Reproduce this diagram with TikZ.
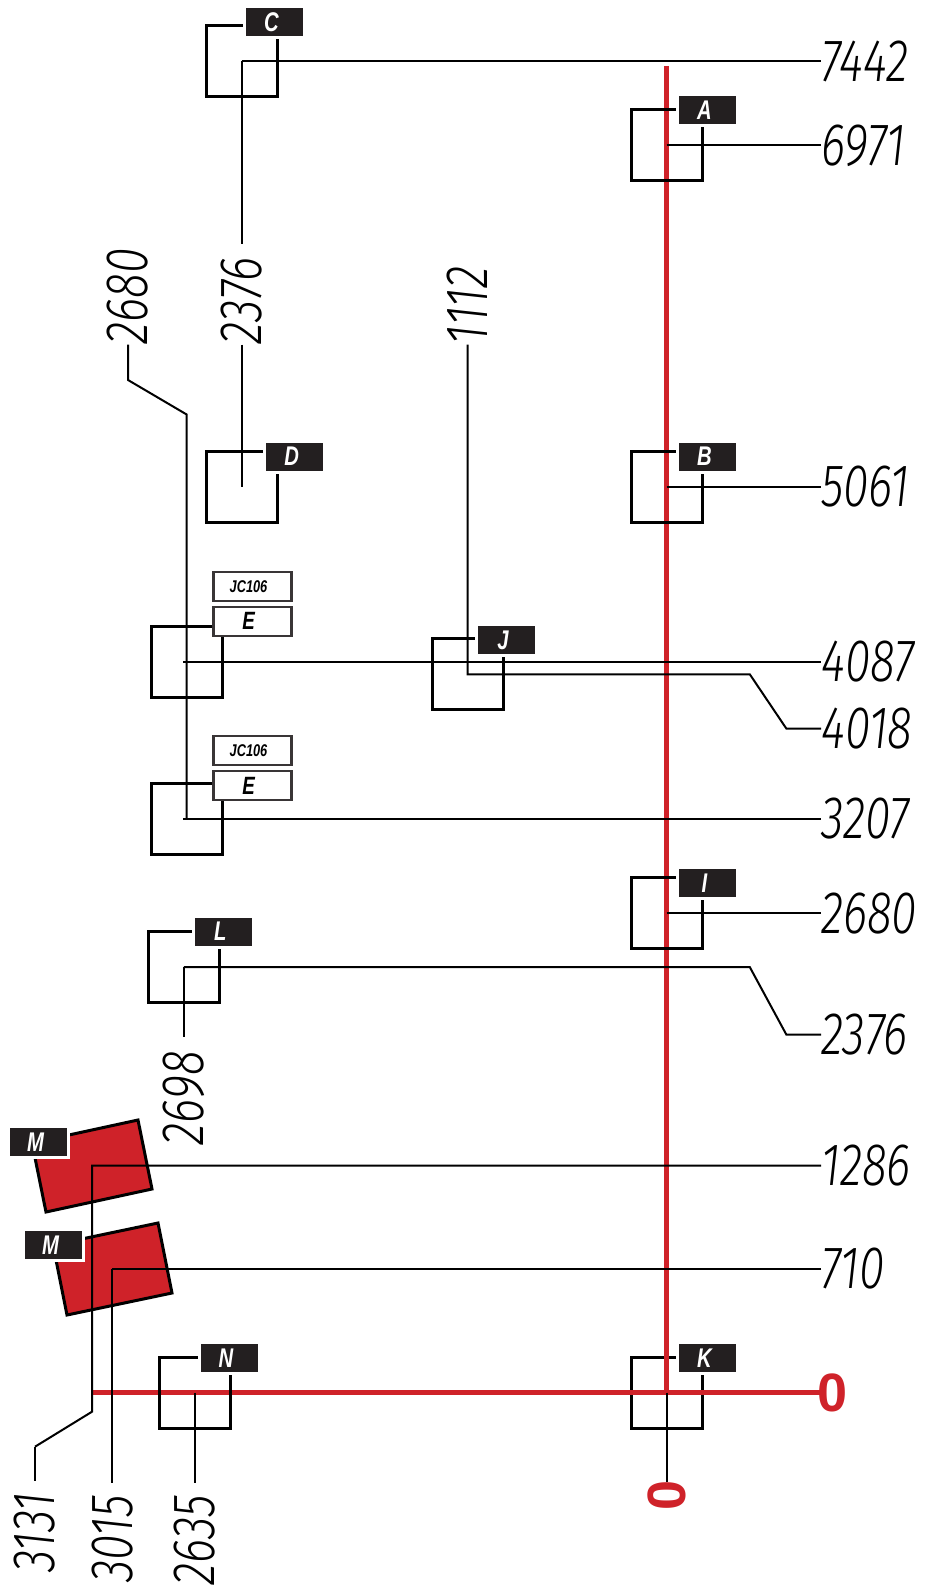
\documentclass[tikz,border=0pt]{standalone}
\usepackage{fontspec}
\setmainfont{Liberation Sans}
\newfontfamily\dimfont[FakeStretch=0.77,ItalicFont={Fira Sans Light Italic}]{Fira Sans Light}
\newfontfamily\tagfont[FakeStretch=0.75]{Liberation Sans}
\definecolor{sigred}{HTML}{CF2229}
\definecolor{tagblack}{HTML}{231F20}
\tikzset{
  frame/.style={draw=black,line width=3pt,minimum size=71pt,inner sep=0pt},
  leader/.style={draw=black,line width=2pt},
  redline/.style={draw=sigred,line width=5.5pt},
  tag/.style={fill=tagblack,draw=white,line width=3pt,text=white,minimum width=60pt,minimum height=31pt,inner sep=0pt,font=\tagfont\bfseries\itshape\fontsize{27}{27}\selectfont,execute at end node=\kern6pt},
  plate/.style={fill=white,draw=tagblack!90,line width=2.2pt,text=black,minimum width=78pt,minimum height=29pt,inner sep=0pt,font=\tagfont\bfseries\itshape\fontsize{25}{25}\selectfont,execute at end node=\kern8pt},
  smallplate/.style={plate,font=\tagfont\bfseries\itshape\fontsize{17}{17}\selectfont},
  dimlabel/.style={inner sep=0pt,font=\dimfont\itshape\fontsize{60}{60}\selectfont},
  zeromark/.style={inner sep=0pt,text=sigred,font=\bfseries\fontsize{54}{54}\selectfont},
  gapped/.style={shorten >=#1}
}
\begin{document}
\begin{tikzpicture}[x=1pt,y=-1pt]
\useasboundingbox (0,0) rectangle (924,1589);

\node[dimlabel,anchor=west] (lab7442) at (821,61) {7442};
\node[dimlabel,anchor=west] (lab6971) at (821,145.5) {6971};
\node[dimlabel,anchor=west] (lab5061) at (821,486.9) {5061};
\node[dimlabel,anchor=west] (lab4087) at (821,661.5) {4087};
\node[dimlabel,anchor=west] (lab4018) at (821,728.5) {4018};
\node[dimlabel,anchor=west] (lab3207) at (821,819) {3207};
\node[dimlabel,anchor=west] (lab2680r) at (821,913.4) {2680};
\node[dimlabel,anchor=west] (lab2376r) at (821,1034.5) {2376};
\node[dimlabel,anchor=west] (lab1286) at (821,1165.7) {1286};
\node[dimlabel,anchor=west] (lab710) at (821,1269) {710};
\node[dimlabel,rotate=90,anchor=west] (lab2680t) at (128,344.5) {2680};
\node[dimlabel,rotate=90,anchor=west] (lab2376t) at (241.6,344.5) {2376};
\node[dimlabel,rotate=90,anchor=west] (lab1112) at (467.6,344.5) {1112};
\node[dimlabel,rotate=90,anchor=east] (lab2698) at (183.9,1051) {2698};
\node[dimlabel,rotate=90,anchor=east] (lab3131) at (35,1492) {3131};
\node[dimlabel,rotate=90,anchor=east] (lab3015) at (112.3,1495) {3015};
\node[dimlabel,rotate=90,anchor=east] (lab2635) at (195,1495) {2635};

\node[zeromark] (zeroH) at (833,1392.5) {0};
\node[zeromark,rotate=90] (zeroV) at (666.5,1495) {0};

\coordinate (redtop) at (666.5,66);
\coordinate (redleft) at (92,1392.5);
\node[frame] (frameK) at (666.5,1392.5) {};
\draw[redline] (redtop) -- (frameK.center);
\draw[redline,gapped=-3pt] (redleft) -- (zeroH.west);

\draw[fill=sigred,draw=black,line width=3pt] (138,1120) -- (152,1189) -- (46,1212) -- (32,1143) -- cycle;
\draw[fill=sigred,draw=black,line width=3pt] (158,1223) -- (172,1293) -- (67,1315) -- (53,1245) -- cycle;

\node[frame] (frameC) at (241.6,61) {};
\node[frame] (frameA) at (666.5,145.5) {};
\node[frame] (frameB) at (666.5,486.9) {};
\node[frame] (frameD) at (241.6,486.9) {};
\node[frame] (frameEa) at (186.5,661.5) {};
\node[frame] (frameEb) at (186.5,819) {};
\node[frame] (frameJ) at (467.6,674.3) {};
\node[frame] (frameI) at (666.5,913.4) {};
\node[frame] (frameL) at (183.9,967.1) {};
\node[frame] (frameN) at (195,1392.5) {};

\coordinate (stubEa) at (183,661.5);
\coordinate (stubEb) at (183,819);
\coordinate (bendJa) at (749.8,674.3);
\coordinate (bendJb) at (786.3,728.5);
\coordinate (bendLa) at (749.8,967.1);
\coordinate (bendLb) at (786.3,1034.5);
\coordinate (bendTa) at (128,380);
\coordinate (bendTb) at (186.5,414.4);
\coordinate (cornerMa) at (92,1165.7);
\coordinate (cornerMb) at (112.3,1269);
\coordinate (bendMa) at (92,1411.7);
\coordinate (bendMb) at (35,1446.7);

\draw[leader] (frameC.center) -- (lab7442.west);
\draw[leader,gapped=13pt] (frameC.center) -- (lab2376t.east);
\draw[leader] (frameA.center) -- (lab6971.west);
\draw[leader] (frameB.center) -- (lab5061.west);
\draw[leader] (lab2376t.west) -- (frameD.center);
\draw[leader] (lab2680t.west) -- (bendTa) -- (bendTb) -- (frameEb.center);
\draw[leader] (stubEa) -- (lab4087.west);
\draw[leader] (stubEb) -- (lab3207.west);
\draw[leader] (lab1112.west) -- (frameJ.center) -- (bendJa) -- (bendJb) -- (lab4018.west);
\draw[leader] (frameI.center) -- (lab2680r.west);
\draw[leader,gapped=14pt] (frameL.center) -- (lab2698.east);
\draw[leader] (frameL.center) -- (bendLa) -- (bendLb) -- (lab2376r.west);
\draw[leader] (lab1286.west) -- (cornerMa) -- (bendMa) -- (bendMb);
\draw[leader,gapped=11pt] (bendMb) -- (lab3131.east);
\draw[leader] (lab710.west) -- (cornerMb);
\draw[leader,gapped=12pt] (cornerMb) -- (lab3015.east);
\draw[leader,gapped=12pt] (frameN.center) -- (lab2635.east);
\draw[leader,gapped=-2pt] (frameK.center) -- (zeroV.east);

\node[tag] (tagC) at (274.5,22) {C};
\node[tag] (tagA) at (707.5,110.5) {A};
\node[tag] (tagB) at (707.5,456.5) {B};
\node[tag] (tagD) at (294.8,456.5) {D};
\node[tag] (tagJ) at (506,640.3) {J};
\node[tag] (tagI) at (707.5,883) {I};
\node[tag] (tagL) at (223.4,931.6) {L};
\node[tag] (tagN) at (229,1358) {N};
\node[tag] (tagK) at (707.5,1358) {K};
\node[tag] (tagMa) at (38.5,1142) {M};
\node[tag] (tagMb) at (53.5,1245) {M};

\node[plate] (tagEa) at (252.5,621.2) {E};
\node[smallplate] (plateEa) at (252.5,586.5) {JC106};
\node[plate] (tagEb) at (252.5,785.5) {E};
\node[smallplate] (plateEb) at (252.5,750.5) {JC106};
\end{tikzpicture}
\end{document}
